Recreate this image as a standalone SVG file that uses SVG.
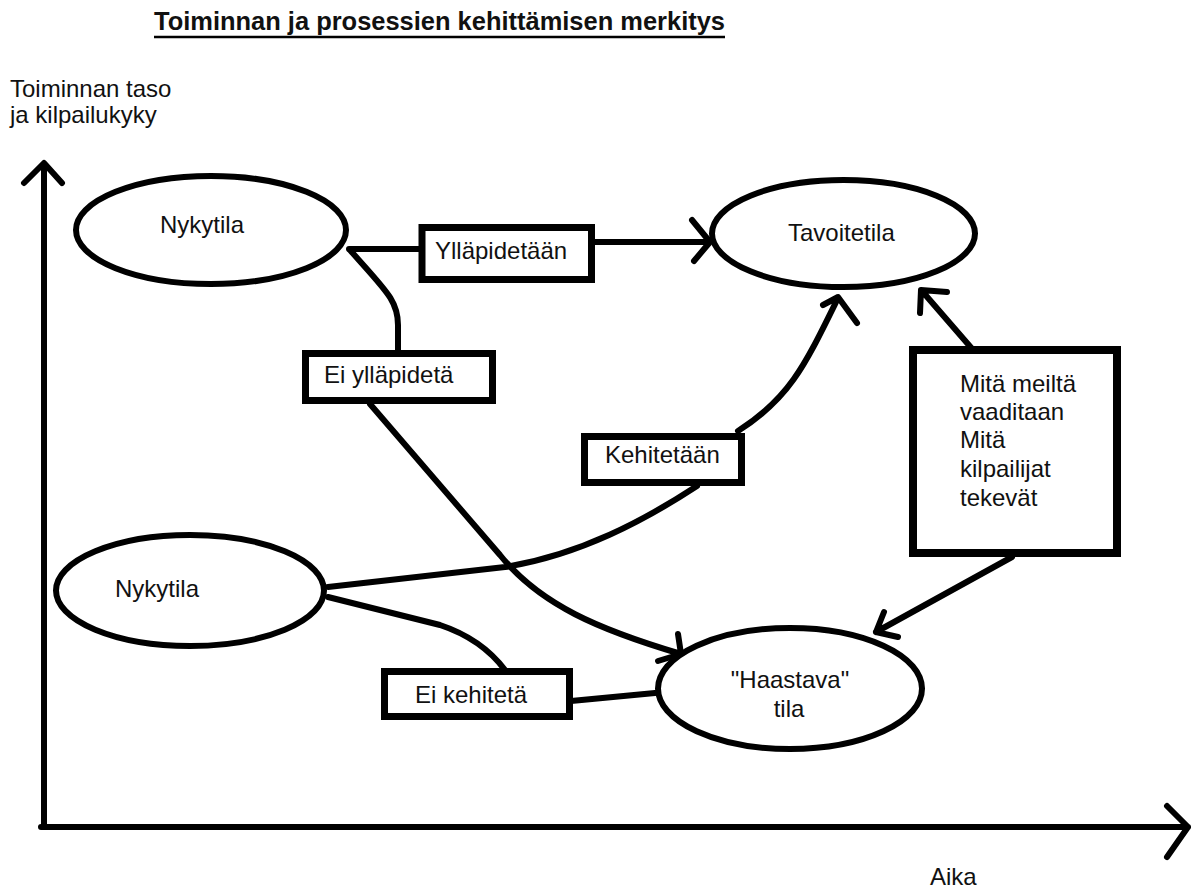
<svg xmlns="http://www.w3.org/2000/svg" width="1192" height="891" viewBox="0 0 1192 891">
<style>
.t{font-family:"Liberation Sans",Arial,sans-serif;font-size:24px;fill:#111}
.title{font-family:"Liberation Sans",Arial,sans-serif;font-size:25px;font-weight:bold;fill:#111}
.node{fill:#fff;stroke:#000;stroke-width:6}
.box{fill:#fff;stroke:#000;stroke-width:7}
.c{fill:none;stroke:#000;stroke-width:6;stroke-linecap:round;stroke-linejoin:round}
</style>
<rect width="1192" height="891" fill="#fff"/>
<g id="title">
<text class="title" x="154" y="30" textLength="571" lengthAdjust="spacingAndGlyphs">Toiminnan ja prosessien kehittämisen merkitys</text>
<line x1="154" y1="37" x2="725" y2="37" stroke="#000" stroke-width="2.5"/>
</g>
<g id="axes">
<path class="c" d="M44,827 L44,164 M24,183 L44,163 L62,183"/>
<path class="c" d="M41,827 L1188,827 M1167,806 L1188,827 L1167,857"/>
<text class="t" x="10" y="97">Toiminnan taso</text>
<text class="t" x="10" y="123">ja kilpailukyky</text>
<text class="t" x="930" y="885">Aika</text>
</g>
<g id="connectors">
<path class="c" d="M349,249 L420,249"/>
<path class="c" d="M594,242 L710,242 M692,220 L710,242 L694,261"/>
<path class="c" d="M350,250 C385,290 398,300 398,325 L398,352"/>
<path class="c" d="M370,404 L500,555 C540,605 600,630 681,654 M678,634 L681,654 L658,661"/>
<path class="c" d="M328,587 L505,567 C580,555 645,520 697,486"/>
<path class="c" d="M738,431 C790,398 805,365 838,298 M823,305 L838,297 L857,323"/>
<path class="c" d="M974,351 L922,291 M920,313 L921,290 L947,292"/>
<path class="c" d="M1012,557 L876,632 M884,612 L876,632 L898,637"/>
<path class="c" d="M328,597 L440,625 C470,635 490,650 505,670"/>
<path class="c" d="M571,701 L655,693"/>
</g>
<g id="nykytila1">
<ellipse class="node" cx="211" cy="230" rx="135" ry="54"/>
<text class="t" x="160" y="233">Nykytila</text>
</g>
<g id="tavoitetila">
<ellipse class="node" cx="843.5" cy="233.5" rx="131.5" ry="53.5"/>
<text class="t" x="788" y="241">Tavoitetila</text>
</g>
<g id="nykytila2">
<ellipse class="node" cx="190" cy="590.5" rx="134" ry="55.5"/>
<text class="t" x="115" y="597">Nykytila</text>
</g>
<g id="haastava">
<ellipse class="node" cx="790" cy="688.5" rx="132" ry="60.5"/>
<text class="t" x="790" y="688" text-anchor="middle">"Haastava"</text>
<text class="t" x="789" y="717" text-anchor="middle">tila</text>
</g>
<g id="yllapidetaan">
<rect class="box" x="422" y="227.5" width="169.5" height="52"/>
<text class="t" x="435" y="259">Ylläpidetään</text>
</g>
<g id="ei-yllapideta">
<rect class="box" x="305.5" y="353.5" width="187" height="47"/>
<text class="t" x="324" y="383">Ei ylläpidetä</text>
</g>
<g id="kehitetaan">
<rect class="box" x="584.5" y="436.5" width="157" height="46"/>
<text class="t" x="605" y="463">Kehitetään</text>
</g>
<g id="ei-kehiteta">
<rect class="box" x="384.5" y="671.5" width="185" height="45"/>
<text class="t" x="415" y="703">Ei kehitetä</text>
</g>
<g id="vaatimukset">
<rect x="913" y="350" width="204" height="203" fill="#fff" stroke="#000" stroke-width="8"/>
<text class="t" x="960" y="392">Mitä meiltä</text>
<text class="t" x="960" y="420">vaaditaan</text>
<text class="t" x="960" y="448">Mitä</text>
<text class="t" x="960" y="477">kilpailijat</text>
<text class="t" x="960" y="506">tekevät</text>
</g>
</svg>
